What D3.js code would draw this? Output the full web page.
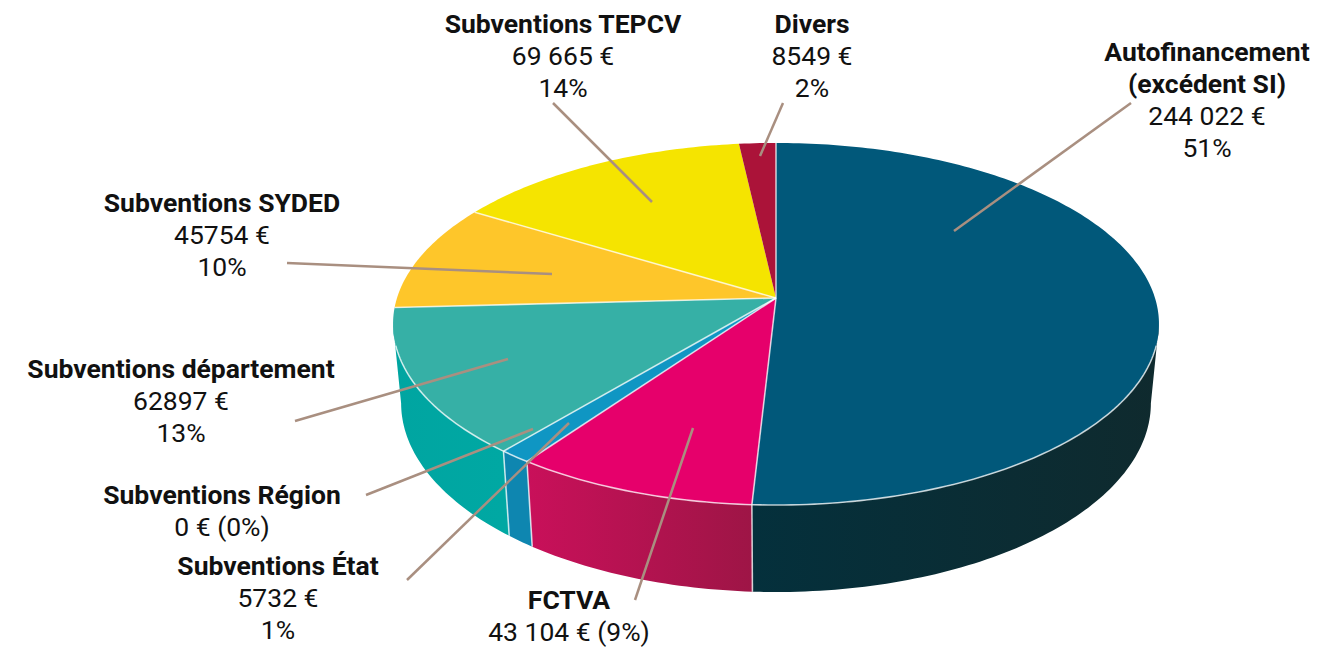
<!DOCTYPE html>
<html>
<head>
<meta charset="utf-8">
<script src="https://cdn.jsdelivr.net/npm/d3@7"></script>
<style>
body { margin: 0; background: #fff; }
svg { display: block; }
text { font-family: Roboto, sans-serif; fill: #111; text-anchor: middle; }
.head { font-weight: 700; font-size: 26.5px; }
.sub { font-weight: 400; font-size: 26.5px; }
</style>
</head>
<body>
<svg id="chart" width="1340" height="650"></svg>
<script>
// data
var categories = ["Autofinancement", "FCTVA", "Subventions État", "Subventions Région", "Subventions département", "Subventions SYDED", "Subventions TEPCV", "Divers"];
var values = [244022, 43104, 5732, 0, 62897, 45754, 69665, 8549];
var amounts = ["244 022 €", "43 104 € (9%)", "5732 €", "0 € (0%)", "62897 €", "45754 €", "69 665 €", "8549 €"];
var percents = ["51%", "", "1%", "", "13%", "10%", "14%", "2%"];
var topColors = ["#01587a", "#e6006b", "#0f96c3", "#0f96c3", "#36b0a6", "#fec62a", "#f5e400", "#ab1339"];
var wallLeft = ["#04303c", "#c9105a", "#0e86b0", "#0e86b0", "#00a5a1", "#fec62a", "#f5e400", "#ab1339"];
var wallRight = ["#0f2a2e", "#9e1546", "#0e86b0", "#0e86b0", "#00a8a3", "#fec62a", "#f5e400", "#ab1339"];

// label layout: head lines, centre x, first baseline, leader start and end
var labelLayout = [
    {i: 0, head: ["Autofinancement", "(excédent SI)"], x: 1207, y: 61, from: [1131, 103], to: [954, 231]},
    {i: 1, head: ["FCTVA"], x: 569, y: 609, from: [635, 600], to: [693, 428]},
    {i: 2, head: ["Subventions État"], x: 278, y: 575, from: [407, 580], to: [569, 423]},
    {i: 3, head: ["Subventions Région"], x: 222, y: 504, from: [366, 495], to: [533, 429]},
    {i: 4, head: ["Subventions département"], x: 181, y: 378, from: [295, 421], to: [508, 359]},
    {i: 5, head: ["Subventions SYDED"], x: 222, y: 212, from: [287, 263], to: [552, 274]},
    {i: 6, head: ["Subventions TEPCV"], x: 563, y: 33, from: [553, 103], to: [652, 202]},
    {i: 7, head: ["Divers"], x: 812, y: 33, from: [783, 103], to: [760, 156]}
];

var svg = d3.select("#chart");
var lineHeight = 32;

// the disc is a circle seen in perspective, so the centre sits above the middle of the ellipse
var persp = 0.1436;
var topDisc = {cx: 776, cy: 298, a: 379, b: 177.3};
var bottomDisc = {cx: 776, cy: 376, a: 371, b: 185};

function project(disc, angle) {
    var u = Math.sin(angle), v = -Math.cos(angle);
    var d = 1 - persp * v;
    return [disc.cx + disc.a * u / d, disc.cy + disc.b * v / d];
}

function samples(a0, a1) {
    var n = Math.max(1, Math.ceil(Math.abs(a1 - a0) / (Math.PI / 180)));
    return d3.range(n + 1).map(function (k) { return a0 + (a1 - a0) * k / n; });
}

var line = d3.line();
var slices = d3.pie().sort(null).value(function (d) { return d; })(values);

// side wall only shows between the two tangent points of the silhouette
var wallStart = Math.acos(-persp);
var wallEnd = 2 * Math.PI - wallStart;
var rimStart = 105 * Math.PI / 180;
var rimEnd = 255 * Math.PI / 180;

var defs = svg.append("defs");
var walls = svg.append("g");

slices.forEach(function (s, i) {
    var a0 = Math.max(s.startAngle, wallStart);
    var a1 = Math.min(s.endAngle, wallEnd);
    if (a1 <= a0) return;
    var p0 = project(topDisc, a1), p1 = project(topDisc, a0);
    var grad = defs.append("linearGradient")
        .attr("id", "wall" + i)
        .attr("gradientUnits", "userSpaceOnUse")
        .attr("x1", Math.min(p0[0], p1[0])).attr("y1", 0)
        .attr("x2", Math.max(p0[0], p1[0])).attr("y2", 0);
    grad.append("stop").attr("offset", 0).attr("stop-color", wallLeft[i]);
    grad.append("stop").attr("offset", 1).attr("stop-color", wallRight[i]);
    var pts = samples(a0, a1).map(function (a) { return project(topDisc, a); })
        .concat(samples(a1, a0).map(function (a) { return project(bottomDisc, a); }));
    walls.append("path")
        .attr("d", line(pts) + "Z")
        .attr("fill", "url(#wall" + i + ")");
});

// top face
svg.append("g").selectAll("path")
    .data(slices)
    .enter().append("path")
    .attr("d", function (s) {
        var pts = [[topDisc.cx, topDisc.cy]].concat(samples(s.startAngle, s.endAngle).map(function (a) { return project(topDisc, a); }));
        return line(pts) + "Z";
    })
    .attr("fill", function (s, i) { return topColors[i]; });

// pale edges: radial lines, rim and wall corners
var edges = svg.append("g").attr("fill", "none").attr("stroke", "#fff").attr("stroke-opacity", 0.72).attr("stroke-width", 1.6);
slices.forEach(function (s, i) {
    if (s.value === 0 || i === 6) return;
    var a = s.endAngle;
    edges.append("path").attr("d", line([[topDisc.cx, topDisc.cy], project(topDisc, a)]));
    if (a > wallStart && a < wallEnd) {
        edges.append("path").attr("d", line([project(topDisc, a), project(bottomDisc, a)]));
    }
});
edges.append("path").attr("d", line(samples(rimStart, rimEnd).map(function (a) { return project(topDisc, a); })));

// labels and leaders
var labels = svg.append("g");
labelLayout.forEach(function (d) {
    labels.append("line")
        .attr("x1", d.from[0]).attr("y1", d.from[1])
        .attr("x2", d.to[0]).attr("y2", d.to[1])
        .attr("stroke", "#a98f80").attr("stroke-width", 2.5);
    var rows = d.head.map(function (h) { return {t: h, c: "head"}; });
    rows.push({t: amounts[d.i], c: "sub"});
    if (percents[d.i]) rows.push({t: percents[d.i], c: "sub"});
    rows.forEach(function (r, k) {
        labels.append("text")
            .attr("class", r.c)
            .attr("x", d.x)
            .attr("y", d.y + k * lineHeight)
            .text(r.t);
    });
});
</script>
</body>
</html>
